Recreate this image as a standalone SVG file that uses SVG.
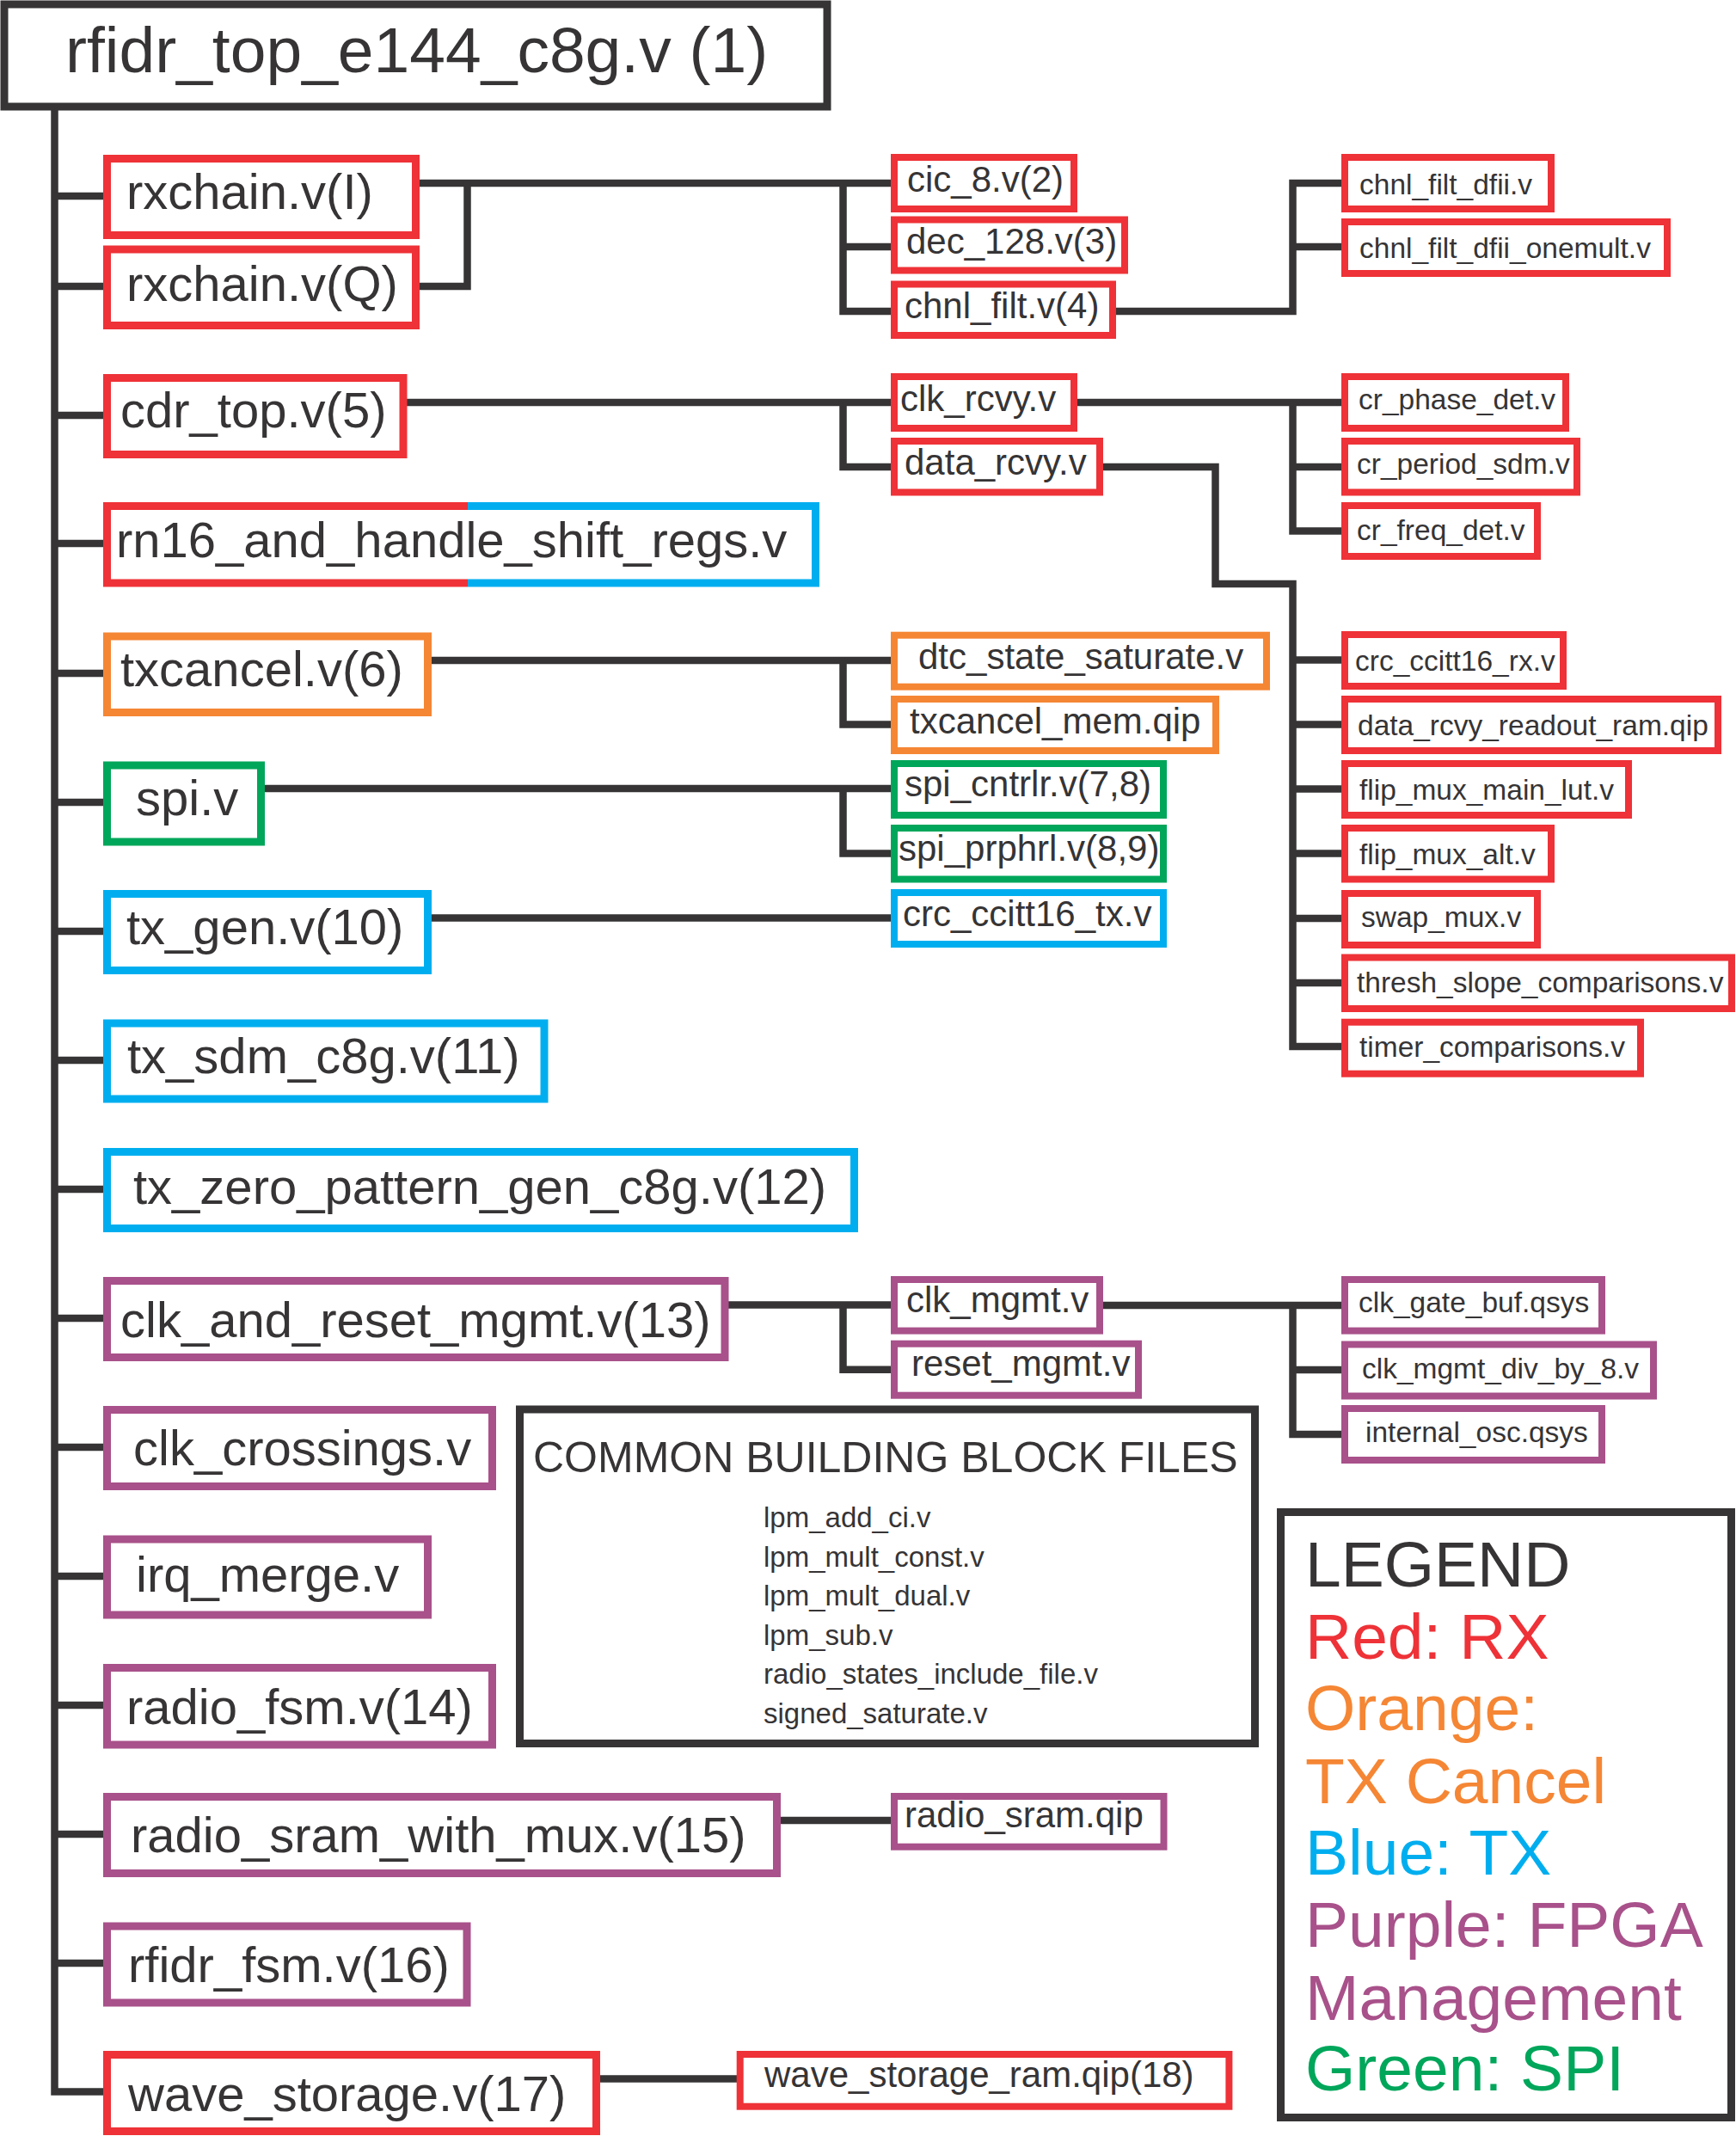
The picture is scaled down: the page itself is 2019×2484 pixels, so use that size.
<svg xmlns="http://www.w3.org/2000/svg" width="2019" height="2484" viewBox="0 0 2019 2484">
<style>
text{font-family:"Liberation Sans",Arial,sans-serif;fill:#363435}
.b{fill:#fff;stroke-width:9}
.s{fill:#fff;stroke-width:8}
.r{stroke:#EE3237}.o{stroke:#F58634}.g{stroke:#00A65A}.u{stroke:#00AEEF}.p{stroke:#A8518A}.k{stroke:#363435}
.t1{font-size:58px}.t2{font-size:42px}.t3{font-size:33.5px}
.c path{fill:none;stroke:#363435;stroke-width:8.5;stroke-linejoin:miter}
</style>
<rect width="2019" height="2484" fill="#fff"/>
<g class="c" id="connectors">
<path d="M63.5,124 V2432.5 H121"/>
<path d="M63.5,228 H121 M63.5,333 H121 M63.5,483 H121 M63.5,632 H121 M63.5,783 H121 M63.5,933 H121 M63.5,1083 H121 M63.5,1233 H121 M63.5,1383 H121 M63.5,1533 H121 M63.5,1683 H121 M63.5,1833 H121 M63.5,1983 H121 M63.5,2133 H121 M63.5,2283 H121"/>
<path d="M484,213 H1037"/>
<path d="M484,333 H543.5 V209"/>
<path d="M980.5,213 V362 H1037 M980.5,287 H1037"/>
<path d="M1294,362 H1503.5 V213 H1561 M1503.5,287 H1561"/>
<path d="M469,468 H1037 M980.5,468 V543 H1037"/>
<path d="M1249,468 H1561 M1503.5,468 V617.5 H1561 M1503.5,543 H1561"/>
<path d="M1279,543 H1413.5 V679 H1503.5 V1217 H1561 M1503.5,767.5 H1561 M1503.5,842.5 H1561 M1503.5,917.5 H1561 M1503.5,992.5 H1561 M1503.5,1068 H1561 M1503.5,1143 H1561"/>
<path d="M498,768 H1037 M980.5,768 V842.5 H1037"/>
<path d="M304,917 H1037 M980.5,917 V992.5 H1037"/>
<path d="M498,1067.6 H1037"/>
<path d="M843,1517.5 H1037 M980.5,1517.5 V1592.7 H1037"/>
<path d="M1279,1518 H1561 M1503.5,1518 V1668 H1561 M1503.5,1593 H1561"/>
<path d="M904,2117 H1037"/>
<path d="M694,2417.5 H857"/>
</g>
<g id="n_top"><rect class="b k" x="5" y="5" width="957" height="119"/><text x="76" y="84" style="font-size:75px">rfidr_top_e144_c8g.v (1)</text></g>
<g id="n_rxchain_i"><rect class="b r" x="124.5" y="184.5" width="359" height="89"/><text class="t1" x="147" y="243">rxchain.v(I)</text></g>
<g id="n_rxchain_q"><rect class="b r" x="124.5" y="290" width="359" height="88.5"/><text class="t1" x="147" y="350">rxchain.v(Q)</text></g>
<g id="n_cdr_top"><rect class="b r" x="124.5" y="439.5" width="344.5" height="89"/><text class="t1" x="140" y="497">cdr_top.v(5)</text></g>
<g id="n_rn16"><rect x="124.5" y="588.5" width="824" height="89.5" fill="#fff"/><path d="M544,588.5 H124.5 V678 H544" fill="none" stroke="#EE3237" stroke-width="9"/><path d="M544,588.5 H948.5 V678 H544" fill="none" stroke="#00AEEF" stroke-width="9"/><text class="t1" x="135" y="648">rn16_and_handle_shift_regs.v</text></g>
<g id="n_txcancel"><rect class="b o" x="124.5" y="740" width="373" height="88.5"/><text class="t1" x="140" y="798">txcancel.v(6)</text></g>
<g id="n_spi"><rect class="b g" x="124.5" y="890" width="179" height="89"/><text class="t1" x="158" y="948">spi.v</text></g>
<g id="n_tx_gen"><rect class="b u" x="124.5" y="1039.5" width="373" height="89"/><text class="t1" x="147" y="1098">tx_gen.v(10)</text></g>
<g id="n_tx_sdm"><rect class="b u" x="124.5" y="1190" width="508.5" height="88"/><text class="t1" x="148" y="1248">tx_sdm_c8g.v(11)</text></g>
<g id="n_tx_zero"><rect class="b u" x="124.5" y="1339.5" width="869" height="89"/><text class="t1" x="155" y="1400">tx_zero_pattern_gen_c8g.v(12)</text></g>
<g id="n_clk_and_reset"><rect class="b p" x="124.5" y="1489.5" width="718.5" height="89"/><text class="t1" x="140" y="1555">clk_and_reset_mgmt.v(13)</text></g>
<g id="n_clk_crossings"><rect class="b p" x="124.5" y="1639.5" width="448" height="89"/><text class="t1" x="155" y="1704">clk_crossings.v</text></g>
<g id="n_irq_merge"><rect class="b p" x="124.5" y="1790" width="373" height="88"/><text class="t1" x="158" y="1851">irq_merge.v</text></g>
<g id="n_radio_fsm"><rect class="b p" x="124.5" y="1939.5" width="448" height="89.5"/><text class="t1" x="147" y="2005">radio_fsm.v(14)</text></g>
<g id="n_radio_sram_mux"><rect class="b p" x="124.5" y="2089.5" width="779" height="89"/><text class="t1" x="152" y="2154">radio_sram_with_mux.v(15)</text></g>
<g id="n_rfidr_fsm"><rect class="b p" x="124.5" y="2240" width="418.5" height="89"/><text class="t1" x="149" y="2305">rfidr_fsm.v(16)</text></g>
<g id="n_wave_storage"><rect class="b r" x="124.5" y="2389.5" width="569" height="89"/><text class="t1" x="149" y="2455">wave_storage.v(17)</text></g>
<g id="n_cic_8"><rect class="s r" x="1040" y="183" width="209" height="60"/><text class="t2" x="1055" y="223">cic_8.v(2)</text></g>
<g id="n_dec_128"><rect class="s r" x="1040" y="255.5" width="268" height="59"/><text class="t2" x="1054" y="295">dec_128.v(3)</text></g>
<g id="n_chnl_filt"><rect class="s r" x="1040" y="330.5" width="254" height="59.5"/><text class="t2" x="1052" y="370">chnl_filt.v(4)</text></g>
<g id="n_clk_rcvy"><rect class="s r" x="1040" y="438" width="209" height="60"/><text class="t2" x="1047" y="478">clk_rcvy.v</text></g>
<g id="n_data_rcvy"><rect class="s r" x="1040" y="513" width="239" height="59.5"/><text class="t2" x="1052" y="552">data_rcvy.v</text></g>
<g id="n_dtc_state"><rect class="s o" x="1040" y="738.7" width="433" height="60"/><text class="t2" x="1068" y="778">dtc_state_saturate.v</text></g>
<g id="n_txcancel_mem"><rect class="s o" x="1040" y="813" width="374" height="60"/><text class="t2" x="1058" y="853">txcancel_mem.qip</text></g>
<g id="n_spi_cntrlr"><rect class="s g" x="1040" y="888" width="313" height="60"/><text class="t2" x="1052" y="926">spi_cntrlr.v(7,8)</text></g>
<g id="n_spi_prphrl"><rect class="s g" x="1040" y="963" width="313" height="59.5"/><text class="t2" x="1045" y="1001">spi_prphrl.v(8,9)</text></g>
<g id="n_crc_tx"><rect class="s u" x="1040" y="1038" width="313" height="60"/><text class="t2" x="1050" y="1077">crc_ccitt16_tx.v</text></g>
<g id="n_clk_mgmt"><rect class="s p" x="1040" y="1488" width="239" height="59.6"/><text class="t2" x="1054" y="1526">clk_mgmt.v</text></g>
<g id="n_reset_mgmt"><rect class="s p" x="1040" y="1562.7" width="284" height="60"/><text class="t2" x="1060" y="1600">reset_mgmt.v</text></g>
<g id="n_radio_sram"><rect class="s p" x="1040" y="2089" width="313.5" height="58.7"/><text class="t2" x="1052" y="2125">radio_sram.qip</text></g>
<g id="n_wave_ram"><rect class="s r" x="860.7" y="2389" width="568.7" height="60.7"/><text class="t2" x="889" y="2427">wave_storage_ram.qip(18)</text></g>
<g id="n_dfii"><rect class="s r" x="1564" y="183" width="240" height="60"/><text class="t3" x="1581" y="226">chnl_filt_dfii.v</text></g>
<g id="n_dfii_onemult"><rect class="s r" x="1564" y="258" width="375" height="60"/><text class="t3" x="1581" y="300">chnl_filt_dfii_onemult.v</text></g>
<g id="n_cr_phase"><rect class="s r" x="1564" y="438" width="257" height="60"/><text class="t3" x="1580" y="476">cr_phase_det.v</text></g>
<g id="n_cr_period"><rect class="s r" x="1564" y="513" width="270" height="59.5"/><text class="t3" x="1578" y="551">cr_period_sdm.v</text></g>
<g id="n_cr_freq"><rect class="s r" x="1564" y="588" width="224" height="59"/><text class="t3" x="1578" y="628">cr_freq_det.v</text></g>
<g id="n_crc_rx"><rect class="s r" x="1564" y="738" width="254" height="60"/><text class="t3" x="1576" y="780">crc_ccitt16_rx.v</text></g>
<g id="n_readout_ram"><rect class="s r" x="1564" y="813" width="434" height="60"/><text class="t3" x="1579" y="855">data_rcvy_readout_ram.qip</text></g>
<g id="n_flip_main"><rect class="s r" x="1564" y="888" width="330" height="60"/><text class="t3" x="1581" y="930">flip_mux_main_lut.v</text></g>
<g id="n_flip_alt"><rect class="s r" x="1564" y="963" width="240" height="59.5"/><text class="t3" x="1581" y="1005">flip_mux_alt.v</text></g>
<g id="n_swap_mux"><rect class="s r" x="1564" y="1039" width="224" height="60"/><text class="t3" x="1583" y="1078">swap_mux.v</text></g>
<g id="n_thresh"><rect class="s r" x="1564" y="1113.5" width="450" height="59.5"/><text class="t3" x="1578" y="1154">thresh_slope_comparisons.v</text></g>
<g id="n_timer"><rect class="s r" x="1564" y="1188.7" width="344" height="60"/><text class="t3" x="1581" y="1229">timer_comparisons.v</text></g>
<g id="n_clk_gate"><rect class="s p" x="1564" y="1488" width="299" height="59.6"/><text class="t3" x="1580" y="1526">clk_gate_buf.qsys</text></g>
<g id="n_div8"><rect class="s p" x="1564" y="1563.5" width="359" height="60"/><text class="t3" x="1584" y="1603">clk_mgmt_div_by_8.v</text></g>
<g id="n_osc"><rect class="s p" x="1564" y="1638" width="299" height="60"/><text class="t3" x="1588" y="1677">internal_osc.qsys</text></g>
<g id="n_common">
<rect class="b k" x="604.5" y="1639" width="855" height="388.5"/>
<text x="620" y="1712" style="font-size:50px">COMMON BUILDING BLOCK FILES</text>
<g style="font-size:33px">
<text x="888" y="1776">lpm_add_ci.v</text>
<text x="888" y="1821.5">lpm_mult_const.v</text>
<text x="888" y="1867">lpm_mult_dual.v</text>
<text x="888" y="1912.5">lpm_sub.v</text>
<text x="888" y="1958">radio_states_include_file.v</text>
<text x="888" y="2003.5">signed_saturate.v</text>
</g>
</g>
<g id="legend" style="font-size:75px">
<rect class="b k" x="1489.5" y="1758.5" width="524" height="704"/>
<text x="1518" y="1845">LEGEND</text>
<text x="1518" y="1928.5" style="fill:#EE3237">Red: RX</text>
<text x="1518" y="2012" style="fill:#F58634">Orange:</text>
<text x="1518" y="2097" style="fill:#F58634">TX Cancel</text>
<text x="1518" y="2180" style="fill:#00AEEF">Blue: TX</text>
<text x="1518" y="2264" style="fill:#A8518A">Purple: FPGA</text>
<text x="1518" y="2348.5" style="fill:#A8518A">Management</text>
<text x="1518" y="2431" style="fill:#00A65A">Green: SPI</text>
</g>
</svg>
